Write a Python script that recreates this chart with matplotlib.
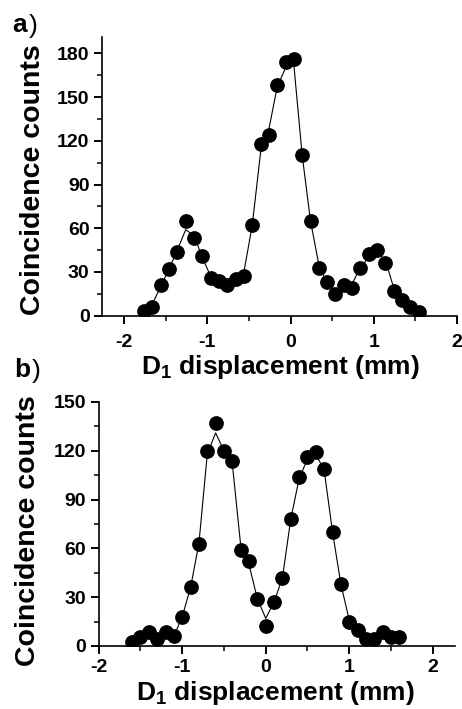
import numpy as np
import matplotlib
matplotlib.use('Agg')
import matplotlib.pyplot as plt
from matplotlib.ticker import MultipleLocator

plt.rcParams['font.family'] = ['Liberation Sans', 'DejaVu Sans']
plt.rcParams['font.weight'] = 'bold'
plt.rcParams['axes.unicode_minus'] = False
plt.rcParams['mathtext.fontset'] = 'custom'
plt.rcParams['mathtext.rm'] = 'Liberation Sans:bold'
plt.rcParams['mathtext.bf'] = 'Liberation Sans:bold'

# panel a: measured points and fitted curve
xa = [-1.76, -1.66, -1.56, -1.46, -1.36, -1.26, -1.16, -1.06, -0.96, -0.86,
      -0.76, -0.66, -0.56, -0.46, -0.36, -0.26, -0.16, -0.06, 0.04, 0.14,
      0.24, 0.34, 0.44, 0.54, 0.64, 0.74, 0.84, 0.94, 1.04, 1.14,
      1.24, 1.34, 1.44, 1.54]
ya = [3, 6, 21, 32, 44, 65, 53, 41, 26, 24,
      21, 25, 27, 62, 118, 124, 158, 174, 176, 110,
      65, 33, 23, 15, 21, 19, 33, 42, 45, 36,
      17, 11, 6, 2.5]
fit_a = [2, 8, 20, 32, 45, 59, 55, 40, 27, 22,
         21, 24, 30, 62, 112, 128, 157, 170, 172, 110,
         65, 35, 22, 17, 19, 22, 33, 40, 44, 38,
         19, 10, 5, 2]

# panel b
xb = [-1.6, -1.5, -1.4, -1.3, -1.2, -1.1, -1.0, -0.9, -0.8, -0.7, -0.6,
      -0.5, -0.4, -0.3, -0.2, -0.1, 0.0, 0.1, 0.2, 0.3, 0.4, 0.5,
      0.6, 0.7, 0.8, 0.9, 1.0, 1.1, 1.2, 1.3, 1.4, 1.5, 1.6]
yb = [2.5, 5.5, 8.5, 4, 8.5, 6, 18, 36, 63, 120, 137,
      120, 114, 59, 52, 29, 12, 27, 42, 78, 104, 116,
      119, 109, 70, 38, 15, 10, 4, 4, 8.5, 5.5, 5.5]
fit_b = [3, 5, 6, 6, 6, 6, 18, 36, 63, 118, 131,
         120, 112, 62, 50, 29, 17, 27, 42, 78, 103, 115,
         118, 108, 70, 38, 16, 9, 5, 4, 7, 6, 5]

xticks = [-2, -1, 0, 1, 2]
yticks_a = [0, 30, 60, 90, 120, 150, 180]
yticks_b = [0, 30, 60, 90, 120, 150]

W, H = 462, 709
fig = plt.figure(figsize=(W / 100, H / 100), dpi=100)

ax1 = fig.add_axes([102 / W, 1 - 315.7 / H, 355 / W, 278.4 / H])
ax2 = fig.add_axes([98.7 / W, 1 - 646 / H, 356.6 / W, 244 / H])


def style(ax, xlim, ylim, yticks, xpad):
    ax.set_xticks(xticks)
    ax.set_xticklabels([str(t) for t in xticks], fontweight='bold', fontsize=14)
    ax.set_yticks(yticks)
    ax.set_yticklabels([str(t) for t in yticks], fontweight='bold', fontsize=14)
    ax.xaxis.set_minor_locator(MultipleLocator(0.5))
    ax.yaxis.set_minor_locator(MultipleLocator(15))
    ax.set_xlim(*xlim)
    ax.set_ylim(*ylim)
    for s in ['top', 'right']:
        ax.spines[s].set_visible(False)
    for s in ['left', 'bottom']:
        ax.spines[s].set_linewidth(1.2)
    ax.tick_params(which='major', direction='out', length=6, width=1.4)
    ax.tick_params(which='minor', direction='out', length=3.5, width=1.1)
    ax.tick_params(axis='x', which='major', pad=xpad)
    ax.tick_params(axis='y', which='major', pad=3)


ax1.plot(xa, fit_a, color='black', lw=0.8)
ax1.plot(xa, ya, 'o', color='black', ms=9.6)
style(ax1, (-2.265, 2.0), (0, 191), yticks_a, 7)

ax2.plot(xb, fit_b, color='black', lw=0.8)
ax2.plot(xb, yb, 'o', color='black', ms=9.6)
style(ax2, (-2.0, 2.27), (0, 150), yticks_b, 3)

xlab = r'D$_\mathbf{1}$ displacement (mm)'
fig.text(280 / W, 1 - 367 / H, xlab, ha='center', va='center', fontsize=19, fontweight='bold')
fig.text(275 / W, 1 - 693 / H, xlab, ha='center', va='center', fontsize=19, fontweight='bold')

fig.text(33 / W, 1 - 180 / H, 'Coincidence counts', rotation=90, ha='center', va='center',
         fontsize=20.5, fontweight='bold')
fig.text(28 / W, 1 - 531 / H, 'Coincidence counts', rotation=90, ha='center', va='center',
         fontsize=20.5, fontweight='bold')

fig.text(12 / W, 1 - 32 / H, 'a', fontsize=19, fontweight='bold', va='baseline')
fig.text(29 / W, 1 - 33 / H, ')', fontsize=19, fontweight='normal', va='baseline')
fig.text(14 / W, 1 - 377 / H, 'b', fontsize=19, fontweight='bold', va='baseline')
fig.text(32 / W, 1 - 378 / H, ')', fontsize=19, fontweight='normal', va='baseline')

fig.savefig('out.png', dpi=100)
